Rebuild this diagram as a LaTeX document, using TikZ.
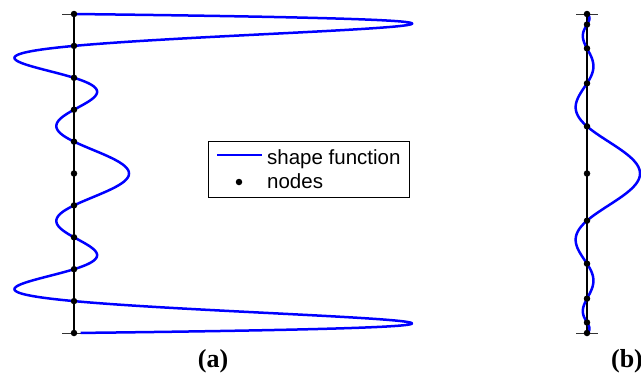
\documentclass[tikz,border=0pt]{standalone}
\usepackage{fontspec}
\setmainfont{Liberation Serif}
\newfontfamily\legendfont{Liberation Sans}
\begin{document}
\begin{tikzpicture}[x=1pt,y=-1pt,
  axisline/.style={line width=2.3pt,black},
  endtick/.style={line width=0.9pt,black!80},
  shapecurve/.style={line width=2.5pt,blue,line join=round},
  nodedot/.style={circle,fill=black,inner sep=0pt,minimum size=6.5pt},
  legendtext/.style={font=\legendfont\fontsize{20.5}{22}\selectfont,anchor=base west,inner sep=0pt},
  panellabel/.style={font=\bfseries\fontsize{26}{28}\selectfont,inner sep=0pt}]
\useasboundingbox (0,0) rectangle (641,376);
\clip (0,0) rectangle (641,376);

% (a) equispaced nodes, degree-10 Lagrange basis of the middle node
\foreach \k in {0,...,10} \coordinate (a\k) at (74,{14+31.9*\k});
\draw[endtick] ([xshift=-12pt]a0) -- ([xshift=12pt]a0);
\draw[endtick] ([xshift=-12pt]a10) -- ([xshift=12pt]a10);
\draw[axisline] (a0) -- (a10);
\draw[shapecurve] plot[domain=-5:5,samples=801,variable=\s]
  ({74+55*(1-\s*\s)*(1-\s*\s/4)*(1-\s*\s/9)*(1-\s*\s/16)*(1-\s*\s/25)},{173.5+31.9*\s});
\foreach \k in {0,...,10} \node[nodedot] (da\k) at (a\k) {};

% (b) Gauss-Lobatto-Legendre nodes, same basis function
\foreach \v [count=\k] in {-1,-0.934001,-0.784483,-0.565235,-0.295758,0,0.295758,0.565235,0.784483,0.934001,1}
  \coordinate (b\k) at (587,{173.5+159.5*\v});
\draw[endtick] ([xshift=-11pt]b1) -- ([xshift=11pt]b1);
\draw[endtick] ([xshift=-11pt]b11) -- ([xshift=11pt]b11);
\draw[axisline] (b1) -- (b11);
\draw[shapecurve] plot[domain=-1:1,samples=801,variable=\x]
  ({587+53*(1-\x*\x/0.087473)*(1-\x*\x/0.319491)*(1-\x*\x/0.615415)*(1-\x*\x/0.872359)*(1-\x*\x)},{173.5+159.5*\x});
\foreach \k in {1,...,11} \node[nodedot] (db\k) at (b\k) {};

% legend
\node[draw,line width=0.9pt,minimum width=201pt,minimum height=56pt,inner sep=0pt,anchor=north west] (legend) at (208,141) {};
\coordinate (ls) at (217,155);
\coordinate (le) at (262,155);
\draw[shapecurve] (ls) -- (le);
\node[nodedot] (ld) at (239,182) {};
\node[legendtext] (lt1) at (267,164) {shape function};
\node[legendtext] (lt2) at (267,188) {nodes};

% panel labels
\node[panellabel] (la) at (213,361) {(a)};
\node[panellabel] (lb) at (627,361) {(b)};
\end{tikzpicture}
\end{document}
